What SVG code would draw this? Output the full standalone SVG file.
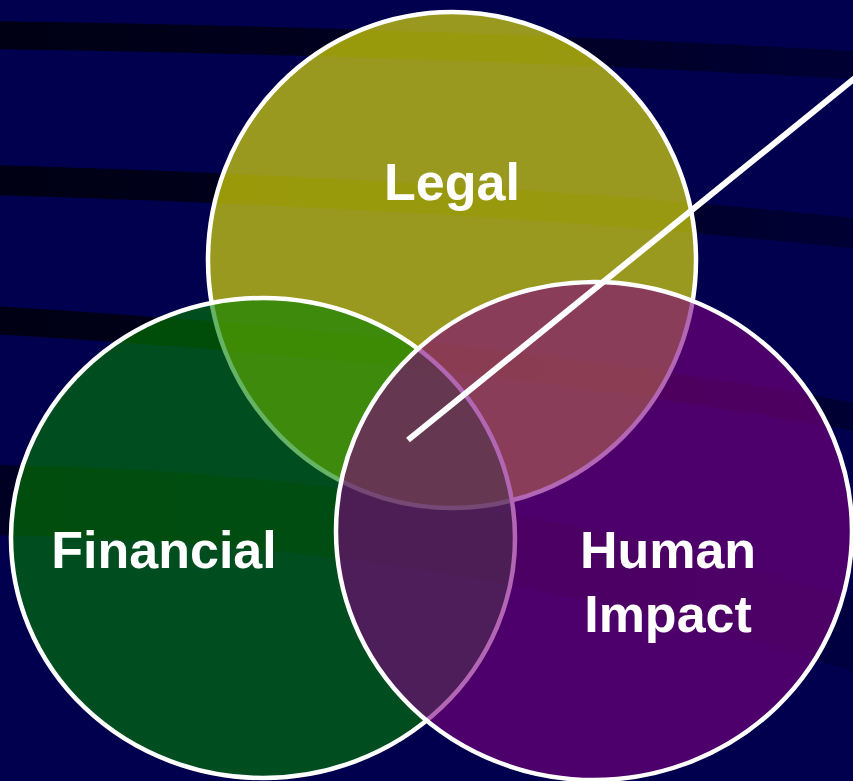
<svg xmlns="http://www.w3.org/2000/svg" width="853" height="781" viewBox="0 0 853 781">
  <defs>
    <linearGradient id="bandGrad" gradientUnits="userSpaceOnUse" x1="0" y1="0" x2="853" y2="0">
      <stop offset="0" stop-color="#000014"/>
      <stop offset="0.6" stop-color="#000024"/>
      <stop offset="1" stop-color="#000034"/>
    </linearGradient>
    <linearGradient id="bandGrad2" gradientUnits="userSpaceOnUse" x1="0" y1="0" x2="853" y2="0">
      <stop offset="0" stop-color="#000010"/>
      <stop offset="0.5" stop-color="#00002a"/>
      <stop offset="1" stop-color="#00003a"/>
    </linearGradient>
    <style>
      .band { fill: none; stroke: url(#bandGrad); }
      .circle { stroke: #ffffff; stroke-width: 4.5; }
      .label { font-family: "Liberation Sans", Arial, sans-serif; font-weight: bold; font-size: 52px; fill: #ffffff; text-anchor: middle; }
    </style>
  </defs>
  <rect x="0" y="0" width="853" height="781" fill="#00004e"/>
  <g id="background-bands">
    <path class="band" d="M -10 35 Q 450 42 870 66" stroke-width="28"/>
    <path class="band" d="M -10 180 Q 500 195 870 235" stroke-width="30"/>
    <path class="band" d="M -10 320 Q 500 350 870 420" stroke-width="28"/>
    <path d="M -10 500 Q 450 505 870 640" fill="none" stroke="url(#bandGrad2)" stroke-width="70" opacity="0.7"/>
  </g>
  <g id="legal">
    <ellipse class="circle" cx="452" cy="260" rx="244" ry="248" fill="#ffff00" fill-opacity="0.6"/>
  </g>
  <g id="financial">
    <ellipse cx="263" cy="538" rx="252" ry="240" fill="#008000" fill-opacity="0.6" stroke="#ffffff" stroke-width="4.5"/>
  </g>
  <g id="human-impact">
    <ellipse cx="594" cy="531" rx="258" ry="249" fill="#800080" fill-opacity="0.6" stroke="#ffffff" stroke-width="4.5"/>
  </g>
  <g id="connectors">
    <line x1="408" y1="440" x2="860" y2="74" stroke="#ffffff" stroke-width="6"/>
  </g>
  <g id="labels">
    <text class="label" x="452" y="200">Legal</text>
    <text class="label" x="164" y="568">Financial</text>
    <text class="label" x="668" y="568">Human</text>
    <text class="label" x="668" y="632">Impact</text>
  </g>
</svg>
